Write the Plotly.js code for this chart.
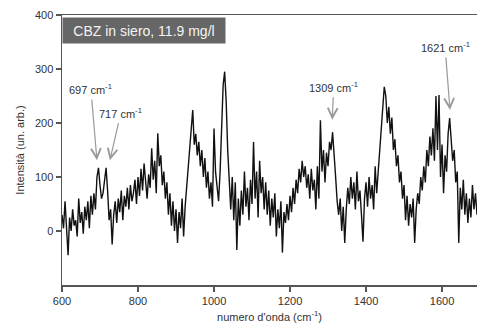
<!DOCTYPE html>
<html>
<head>
<meta charset="utf-8">
<script src="https://cdn.plot.ly/plotly-3.0.1.min.js"></script>
<style>html,body{margin:0;padding:0;background:#fff;}#chart{width:477px;height:324px;}</style>
</head>
<body>
<div id="chart"></div>
<script>
// Spectrum sampled every 4 cm-1 starting at 600 cm-1
const wnStart = 600;
const wnStep = 4;
const intensity = [
  30,5,55,10,-45,25,0,40,10,20,          // 600-636
  -10,60,15,35,-5,45,20,55,5,65,         // 640-676
  30,70,40,100,117,85,60,70,100,117,     // 680-716
  75,20,40,-25,30,55,15,60,35,75,        // 720-756
  20,65,45,80,40,85,55,70,95,50,         // 760-796
  100,65,115,75,125,90,60,105,80,153,    // 800-836
  95,130,70,181,120,140,85,110,60,90,    // 840-876
  30,70,10,55,0,40,-22,35,5,60,          // 880-916
  -10,45,80,120,150,190,224,160,180,140, // 920-956
  165,120,150,100,135,80,110,60,90,45,   // 960-996
  190,110,75,55,110,190,270,295,240,150, // 1000-1036
  80,40,100,20,90,-35,60,10,75,30,       // 1040-1076
  110,45,80,20,95,50,165,60,110,25,      // 1080-1116
  130,70,100,40,90,30,75,10,60,25,       // 1120-1156
  70,-10,40,5,55,-40,35,15,50,20,        // 1160-1196
  65,35,80,50,95,70,115,90,130,100,      // 1200-1236
  120,80,105,60,115,75,95,40,120,60,     // 1240-1276
  205,110,150,90,145,120,165,150,183,130,// 1280-1316
  100,55,30,60,0,45,-22,40,80,50,        // 1320-1356
  100,60,90,40,110,55,75,30,-20,60,      // 1360-1396
  90,45,100,60,85,40,120,70,110,160,     // 1400-1436
  200,240,267,250,200,230,180,210,150,170, // 1440-1476
  120,140,90,110,60,85,20,65,10,50,      // 1480-1516
  25,60,-22,40,70,50,100,75,120,90,      // 1520-1556
  150,120,175,140,190,130,250,150,252,100, // 1560-1596
  160,70,140,110,180,209,170,130,150,90, // 1600-1636
  110,-22,80,40,95,30,70,15,60,25,       // 1640-1676
  85,40,70,30                            // 1680-1692
];

const xTicks = [600, 800, 1000, 1200, 1400, 1600];
const yTicks = [0, 100, 200, 300, 400];

const peakLabels = ['697 cm<sup>-1</sup>', '717 cm<sup>-1</sup>', '1309 cm<sup>-1</sup>', '1621 cm<sup>-1</sup>'];
const peakHeadX = [692, 726, 1311, 1621];
const peakHeadY = [131, 131, 206, 224];
const peakTextX = [676, 755, 1315, 1608];
const peakTextY = [263, 219, 267, 341];

const titleText = 'CBZ in siero, 11.9 mg/l';

const font = 'Arial, "Liberation Sans", sans-serif';

const annotations = peakLabels.map((t, i) => ({
  text: t,
  x: peakHeadX[i], y: peakHeadY[i],
  ax: peakTextX[i], ay: peakTextY[i],
  xref: 'x', yref: 'y', axref: 'x', ayref: 'y',
  showarrow: true,
  arrowhead: 5, arrowsize: 1.6, arrowwidth: 1.2, arrowcolor: '#999',
  font: {family: font, size: 11, color: '#333'},
  standoff: 0, startstandoff: 2
}));
annotations.push({
  text: titleText,
  xref: 'paper', yref: 'paper', x: 0, y: 1,
  xanchor: 'left', yanchor: 'top', yshift: -2,
  showarrow: false,
  width: 160, height: 23,
  bgcolor: '#666',
  font: {family: font, size: 14, color: '#f4f4f4'}
});

const trace = {
  type: 'scatter', mode: 'lines',
  x0: wnStart, dx: wnStep, y: intensity,
  line: {color: '#111', width: 1.4},
  hoverinfo: 'skip'
};

const layout = {
  width: 477, height: 324,
  margin: {l: 62, r: 0, t: 15, b: 39},
  paper_bgcolor: '#fff', plot_bgcolor: '#fff',
  showlegend: false,
  font: {family: font, size: 11, color: '#333'},
  xaxis: {
    range: [600, 1692], tickvals: xTicks, ticks: 'outside', ticklen: 5, tickcolor: '#555', tickwidth: 1.2,
    showline: true, linecolor: '#555', linewidth: 1.5, mirror: true,
    showgrid: false, zeroline: false,
    tickfont: {family: font, size: 11, color: '#333'},
    title: {text: 'numero d\'onda (cm<sup>-1</sup>)', font: {family: font, size: 11, color: '#333'}, standoff: 7}
  },
  yaxis: {
    range: [-100, 400], tickvals: yTicks, ticks: 'outside', ticklen: 5, tickcolor: '#555', tickwidth: 1.2,
    showline: true, linecolor: '#555', linewidth: 1.5, mirror: false,
    showgrid: false, zeroline: false,
    tickfont: {family: font, size: 11, color: '#333'},
    title: {text: 'Intensità (un. arb.)', font: {family: font, size: 11, color: '#333'}, standoff: 8}
  },
  annotations: annotations
};

Plotly.newPlot('chart', [trace], layout, {displayModeBar: false, staticPlot: true});
</script>
</body>
</html>
